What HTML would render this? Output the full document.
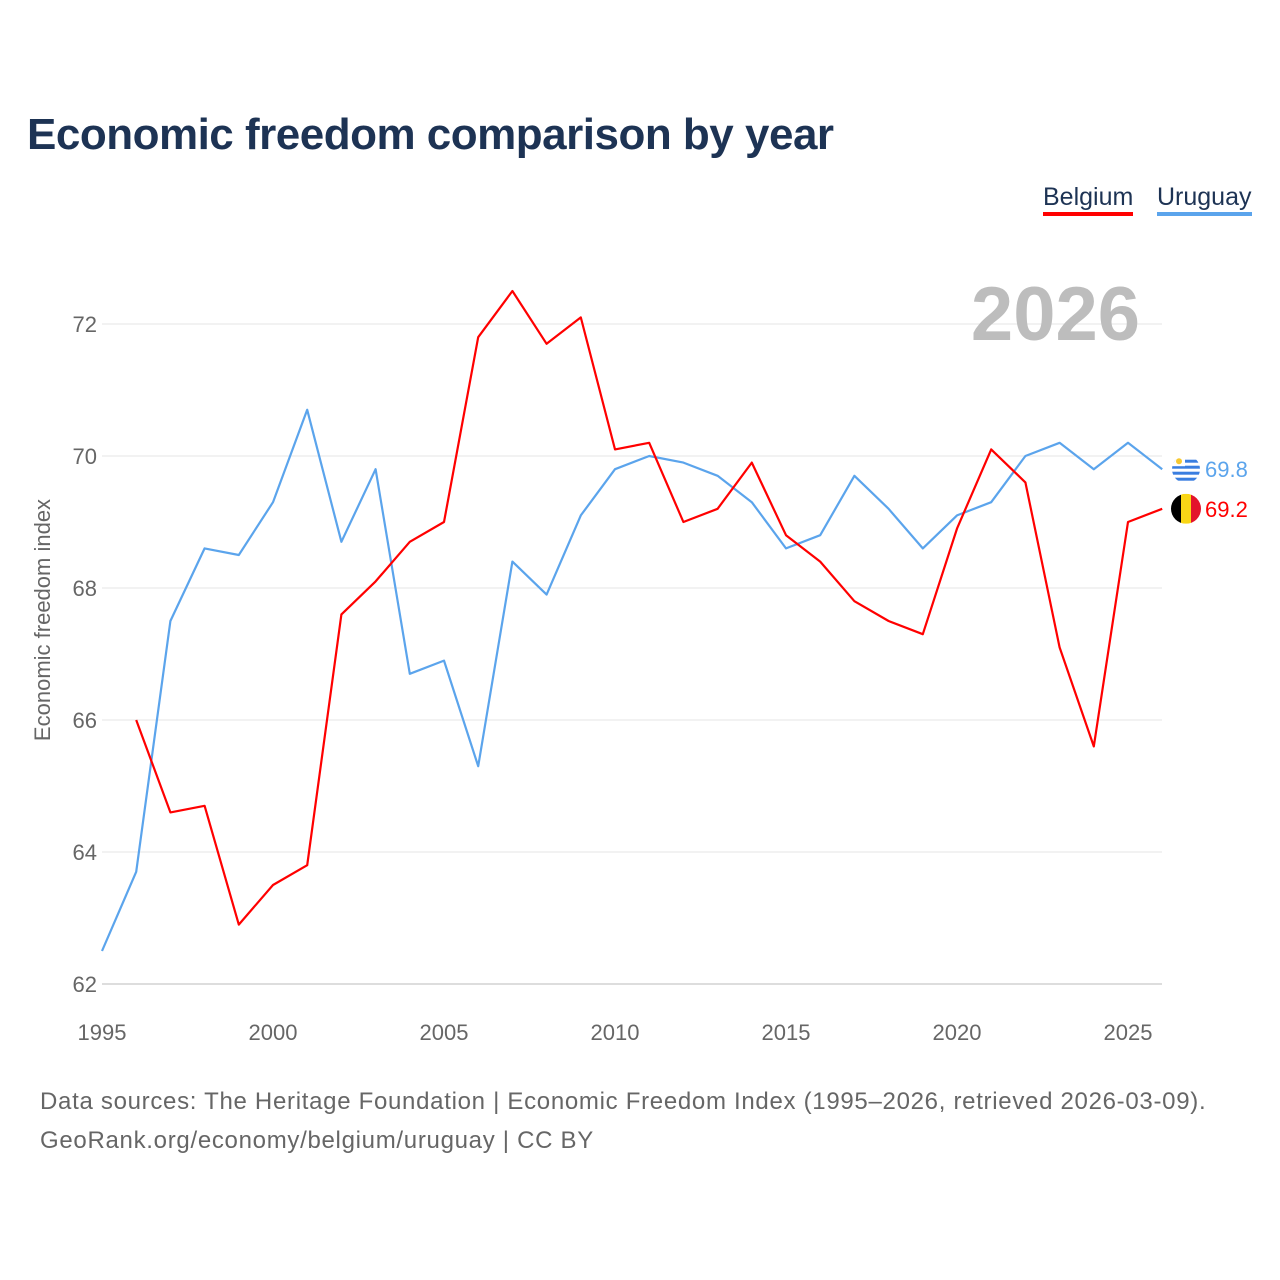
<!DOCTYPE html>
<html><head><meta charset="utf-8">
<style>
html,body{margin:0;padding:0;background:#fff;}
body{width:1280px;height:1280px;position:relative;overflow:hidden;font-family:"Liberation Sans",sans-serif;}
.title{position:absolute;left:27px;top:110px;font-size:44px;font-weight:bold;color:#1d3354;letter-spacing:-0.5px;}
.legend{position:absolute;top:183px;font-size:25px;color:#1d3354;}
.foot{position:absolute;left:40px;font-size:24px;color:#666;letter-spacing:0.7px;}
</style></head><body>
<div class="title">Economic freedom comparison by year</div>
<div class="legend" style="left:1043px;border-bottom:4px solid #ff0000;">Belgium</div>
<div class="legend" style="left:1157px;border-bottom:4px solid #5ba4ec;">Uruguay</div>
<svg id="chart" width="1280" height="1280" style="position:absolute;left:0;top:0"></svg>
<div class="foot" style="top:1088px">Data sources: The Heritage Foundation | Economic Freedom Index (1995–2026, retrieved 2026-03-09).</div>
<div class="foot" style="top:1127px">GeoRank.org/economy/belgium/uruguay | CC BY</div>
<script>
const belgiumYears=[1996,1997,1998,1999,2000,2001,2002,2003,2004,2005,2006,2007,2008,2009,2010,2011,2012,2013,2014,2015,2016,2017,2018,2019,2020,2021,2022,2023,2024,2025,2026];
const belgiumValues=[66.0,64.6,64.7,62.9,63.5,63.8,67.6,68.1,68.7,69.0,71.8,72.5,71.7,72.1,70.1,70.2,69.0,69.2,69.9,68.8,68.4,67.8,67.5,67.3,68.9,70.1,69.6,67.1,65.6,69.0,69.2];
const uruguayYears=[1995,1996,1997,1998,1999,2000,2001,2002,2003,2004,2005,2006,2007,2008,2009,2010,2011,2012,2013,2014,2015,2016,2017,2018,2019,2020,2021,2022,2023,2024,2025,2026];
const uruguayValues=[62.5,63.7,67.5,68.6,68.5,69.3,70.7,68.7,69.8,66.7,66.9,65.3,68.4,67.9,69.1,69.8,70.0,69.9,69.7,69.3,68.6,68.8,69.7,69.2,68.6,69.1,69.3,70.0,70.2,69.8,70.2,69.8];
const yTicks=[62,64,66,68,70,72];
const xTicks=[1995,2000,2005,2010,2015,2020,2025];

const NS="http://www.w3.org/2000/svg";
const svg=document.getElementById('chart');
const X=y=>102+(y-1995)*34.2;
const Y=v=>984-(v-62)*66;
function mk(tag,attrs,parent){const e=document.createElementNS(NS,tag);for(const k in attrs)e.setAttribute(k,attrs[k]);(parent||svg).appendChild(e);return e;}

yTicks.forEach(t=>{
  const g=mk('line',{x1:102,x2:1162,y1:Y(t),y2:Y(t),stroke:t===62?'#bbb':'#e6e6e6','stroke-width':1});
  
  
  const l=mk('text',{x:97,y:Y(t)+8,'text-anchor':'end','font-size':22,fill:'#666','font-family':'Liberation Sans, sans-serif'});
  l.textContent=t;
  
  
});
xTicks.forEach(t=>{
  const l=mk('text',{x:X(t),y:1040,'text-anchor':'middle','font-size':22,fill:'#666','font-family':'Liberation Sans, sans-serif'});
  l.textContent=t;
  
  
});
const yt=mk('text',{x:0,y:0,transform:'translate(50,620) rotate(-90)','text-anchor':'middle','font-size':22,fill:'#666','font-family':'Liberation Sans, sans-serif'});
yt.textContent='Economic freedom index';



const yr=mk('text',{x:1140,y:340,'text-anchor':'end','font-size':76,'font-weight':'bold',fill:'#bdbdbd','font-family':'Liberation Sans, sans-serif'});
yr.textContent='2026';



function series(years,vals,color,name){
  const p=mk('polyline',{points:years.map((y,i)=>X(y)+','+Y(vals[i])).join(' '),fill:'none',stroke:color,'stroke-width':2.2,'stroke-linejoin':'round'});
  
  
}
series(uruguayYears,uruguayValues,'#5ba4ec','uruguay');
series(belgiumYears,belgiumValues,'#ff0000','belgium');

const uv=uruguayValues[uruguayValues.length-1], bv=belgiumValues[belgiumValues.length-1];
const fx=1186;
const defs=mk('defs',{});
const uy=Y(uv), by=Y(bv);
const cu=mk('clipPath',{id:'uc'},defs); mk('circle',{cx:fx,cy:uy,r:14},cu);
const cb=mk('clipPath',{id:'bc'},defs); mk('circle',{cx:fx,cy:by,r:15},cb);
// Uruguay flag
const ug=mk('g',{'clip-path':'url(#uc)'});


mk('rect',{x:fx-15,y:uy-15,width:30,height:30,fill:'#fff'},ug);
[-8,-2,4,10].forEach(o=>{mk('rect',{x:fx-15,y:uy+o-1.5,width:30,height:3,fill:'#3a7ee0'},ug);});
mk('rect',{x:fx-15,y:uy-15,width:14,height:12,fill:'#fff'},ug);
mk('circle',{cx:fx-7,cy:uy-8,r:3,fill:'#f6c830'},ug);
const ul=mk('text',{x:1205,y:uy+8,'font-size':22,fill:'#5ba4ec','font-family':'Liberation Sans, sans-serif'});
ul.textContent=uv.toFixed(1);


// Belgium flag
const bg=mk('g',{'clip-path':'url(#bc)'});


[['#000',-15],['#f9d616',-5],['#e3142b',5]].forEach(([c,o])=>{mk('rect',{x:fx+o,y:by-15,width:10,height:30,fill:c},bg);});
const bl=mk('text',{x:1205,y:by+8,'font-size':22,fill:'#ff0000','font-family':'Liberation Sans, sans-serif'});
bl.textContent=bv.toFixed(1);


</script>
</body></html>
